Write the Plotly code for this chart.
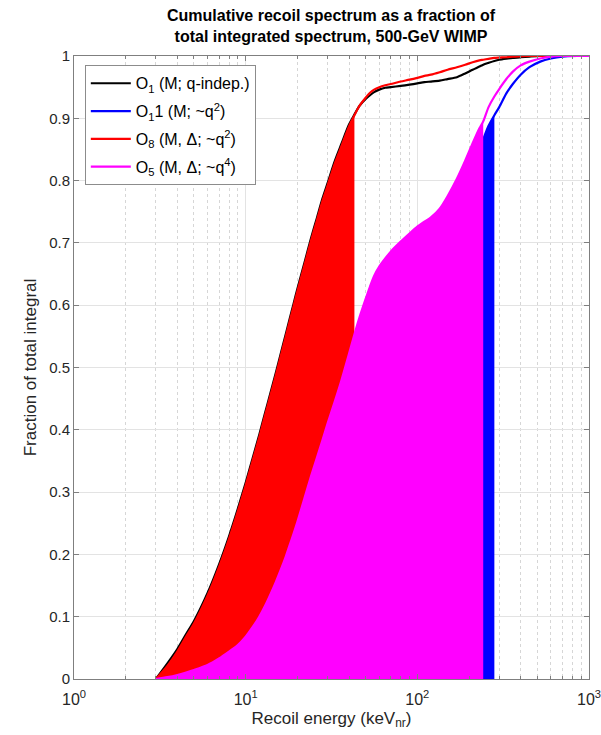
import numpy as np
import plotly.graph_objects as go

# Recoil energy grid (keV_nr)
energy = [3, 3.5, 4, 4.5, 5, 6, 7, 8, 9, 10, 11, 12, 13, 14, 15, 16, 17, 18, 19, 20,
          22, 24, 26, 28, 30, 33, 36, 40, 43, 46, 50, 53, 56, 60, 65, 70, 80, 90, 100,
          110, 120, 135, 150, 170, 190, 210, 230, 242, 260, 281, 300, 330, 360, 400,
          450, 520, 600, 700, 850, 1000]

# O1 (M; q-indep.)
o1 = [0, 0.025, 0.048, 0.072, 0.093, 0.138, 0.184, 0.229, 0.273, 0.315, 0.355, 0.392,
      0.428, 0.461, 0.492, 0.522, 0.55, 0.577, 0.602, 0.626, 0.668, 0.707, 0.74, 0.771,
      0.796, 0.831, 0.858, 0.89, 0.906, 0.92, 0.931, 0.937, 0.942, 0.946, 0.949, 0.95,
      0.952, 0.954, 0.956, 0.958, 0.959, 0.9605, 0.963, 0.966, 0.972, 0.978, 0.983,
      0.986, 0.989, 0.992, 0.994, 0.9957, 0.997, 0.998, 0.999, 1.0, 1.0, 1.0, 1.0, 1.0]

# O8 (M, Delta; ~q^2)
o8 = [0, 0.021, 0.044, 0.068, 0.089, 0.134, 0.18, 0.225, 0.269, 0.311, 0.351, 0.388,
      0.424, 0.457, 0.488, 0.518, 0.546, 0.573, 0.598, 0.622, 0.664, 0.703, 0.736,
      0.767, 0.792, 0.827, 0.854, 0.887, 0.905, 0.92, 0.933, 0.941, 0.946, 0.95,
      0.953, 0.955, 0.959, 0.962, 0.965, 0.968, 0.97, 0.974, 0.978, 0.982, 0.986,
      0.99, 0.993, 0.994, 0.9955, 0.997, 0.9975, 0.998, 0.999, 0.9995, 1.0, 1.0, 1.0,
      1.0, 1.0, 1.0]

# O5 (M, Delta; ~q^4)
o5 = [0, 0.003, 0.0065, 0.0105, 0.0145, 0.0225, 0.033, 0.044, 0.0545, 0.068, 0.0835,
      0.1, 0.118, 0.137, 0.156, 0.175, 0.194, 0.214, 0.233, 0.252, 0.29, 0.325, 0.355,
      0.383, 0.41, 0.445, 0.478, 0.522, 0.553, 0.58, 0.61, 0.63, 0.647, 0.662, 0.675,
      0.686, 0.702, 0.715, 0.726, 0.734, 0.741, 0.755, 0.775, 0.803, 0.832, 0.86, 0.884,
      0.895, 0.918, 0.935, 0.947, 0.963, 0.975, 0.985, 0.991, 0.996, 0.999, 1.0, 1.0, 1.0]

# O11 (M; ~q^2)
o11 = [0, 0.002, 0.004, 0.006, 0.008, 0.013, 0.019, 0.026, 0.034, 0.043, 0.053, 0.064,
       0.076, 0.089, 0.102, 0.116, 0.13, 0.145, 0.16, 0.175, 0.205, 0.235, 0.265, 0.293,
       0.32, 0.36, 0.395, 0.44, 0.47, 0.5, 0.535, 0.56, 0.58, 0.605, 0.628, 0.645, 0.67,
       0.688, 0.7, 0.71, 0.718, 0.73, 0.745, 0.77, 0.795, 0.82, 0.848, 0.866, 0.888,
       0.905, 0.918, 0.94, 0.955, 0.97, 0.982, 0.991, 0.996, 0.999, 1.0, 1.0]

# shaded-region upper energy limits
cut_o8 = 43
cut_o5 = 242
cut_o11 = 281

names = ["O<sub>1</sub> (M; q-indep.)", "O<sub>1</sub>1 (M; ~q<sup>2</sup>)",
         "O<sub>8</sub> (M, Δ; ~q<sup>2</sup>)", "O<sub>5</sub> (M, Δ; ~q<sup>4</sup>)"]

E = np.array(energy)
FONT = "Liberation Sans, Arial, Helvetica, sans-serif"
SM = 0.7

def sub(arr, cut):
    m = E <= cut
    return E[m], np.array(arr)[m]

def line(y, color, name, grp):
    return go.Scatter(x=E, y=y, mode="lines", name=name, legendgroup=grp,
                      line=dict(color=color, width=2.2, shape="spline", smoothing=SM))

def area(arr, cut, color):
    x, y = sub(arr, cut)
    return go.Scatter(x=x, y=y, mode="lines", line=dict(width=0, shape="spline", smoothing=SM),
                      fill="tozeroy", fillcolor=color, showlegend=False)

fig = go.Figure()
fig.add_trace(line(o1, "#000000", names[0], "a"))
fig.add_trace(line(o11, "#0000FF", names[1], "b"))
fig.add_trace(area(o8, cut_o8, "#FF0000"))
fig.add_trace(area(o11, cut_o11, "#0000FF"))
fig.add_trace(area(o5, cut_o5, "#FF00FF"))
fig.add_trace(line(o8, "#FF0000", names[2], "c"))
fig.add_trace(line(o5, "#FF00FF", names[3], "d"))

xt = [1, 10, 100, 1000]
fig.update_layout(
    width=601, height=735,
    margin=dict(l=74, r=12, t=56, b=56),
    paper_bgcolor="white", plot_bgcolor="white",
    font=dict(family=FONT, color="#262626", size=15),
    showlegend=True,
    legend=dict(x=0.021, y=0.985, xanchor="left", yanchor="top", bgcolor="white",
                bordercolor="#8c8c8c", borderwidth=1, font=dict(size=16, color="#000000"),
                tracegroupgap=4, itemwidth=40),
    hovermode=False,
    annotations=[dict(text="<b>Cumulative recoil spectrum as a fraction of<br>total integrated spectrum, 500-GeV WIMP</b>",
                      x=0.5, xref="paper", xanchor="center", y=1, yref="paper", yanchor="bottom",
                      yshift=9, showarrow=False, align="center",
                      font=dict(size=16, color="#000000", family=FONT))],
)
fig.update_xaxes(type="log", range=[0, 3], tickvals=xt, automargin=False,
                 ticktext=["10<sup>0</sup>", "10<sup>1</sup>", "10<sup>2</sup>", "10<sup>3</sup>"],
                 ticklabeloverflow="allow", ticklabelstandoff=6,
                 showline=True, linecolor="#7f7f7f", linewidth=1, mirror="ticks",
                 ticks="inside", ticklen=5, tickcolor="#7f7f7f",
                 showgrid=True, gridcolor="#e3e3e3", gridwidth=1, zeroline=False,
                 minor=dict(dtick="D1", showgrid=True, gridcolor="#d6d6d6", griddash="dot",
                            gridwidth=1, ticks="inside", ticklen=3, tickcolor="#7f7f7f"),
                 title=dict(text="Recoil energy (keV<sub>nr</sub>)", font=dict(size=17), standoff=4),
                 tickfont=dict(size=16))
fig.update_yaxes(range=[0, 1], tickvals=[i / 10 for i in range(11)], automargin=False,
                 ticktext=["0", "0.1", "0.2", "0.3", "0.4", "0.5", "0.6", "0.7", "0.8", "0.9", "1"],
                 showline=True, linecolor="#7f7f7f", linewidth=1, mirror="ticks",
                 ticks="inside", ticklen=5, tickcolor="#7f7f7f",
                 showgrid=True, gridcolor="#e3e3e3", gridwidth=1, zeroline=False,
                 title=dict(text="Fraction of total integral", font=dict(size=17), standoff=8),
                 tickfont=dict(size=15))

fig.write_html("out.html")
